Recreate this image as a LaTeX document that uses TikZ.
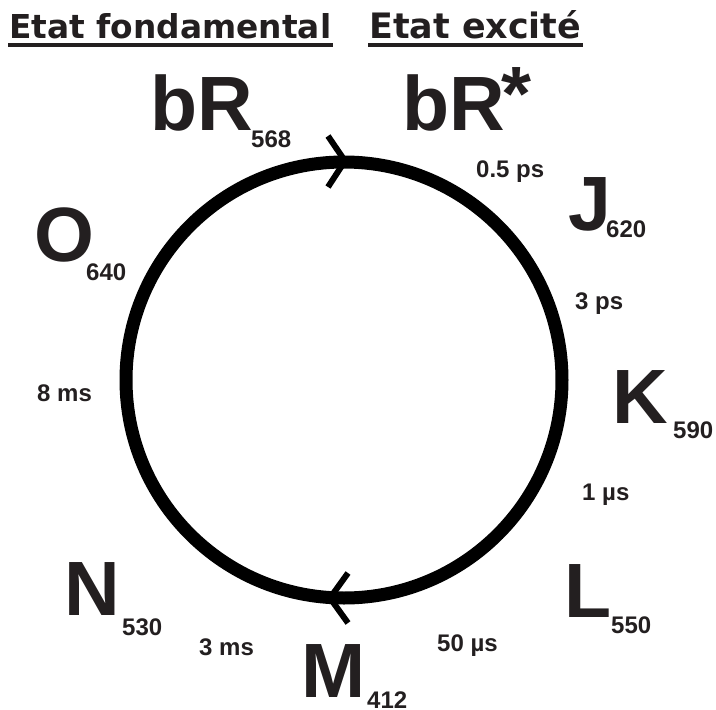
\documentclass[tikz,border=0pt]{standalone}
\usepackage{fontspec}
\setmainfont{Liberation Sans}
\newfontfamily\titlefont{DejaVu Sans}
\definecolor{ink}{HTML}{231F20}
\newcommand\subn[3]{\kern#1pt\raisebox{-#2pt}{\fontsize{24}{24}\selectfont #3}}
\begin{document}
\begin{tikzpicture}[x=1pt,y=-1pt,
  big/.style={anchor=base west,inner sep=0pt,font=\fontsize{77}{77}\selectfont\bfseries,text=ink},
  tlabel/.style={anchor=base west,inner sep=0pt,font=\fontsize{24}{24}\selectfont\bfseries,text=ink},
  ttl/.style={anchor=base west,inner sep=0pt,font=\titlefont\bfseries,text=ink},
  uline/.style={line width=4pt,ink},
  cyclepath/.style={line width=13pt,black},
  chev/.style={line width=6pt,black}]
\useasboundingbox (0,0) rectangle (716,710);
% titles
\node[ttl] (t1) at (9,38) {\resizebox{322pt}{25pt}{Etat fondamental}};
\node[ttl] (t2) at (369,38) {\resizebox{212pt}{28pt}{Etat excité}};
\draw[uline] (8,45) -- (333,45);
\draw[uline] (368,45) -- (583,45);
% cycle
\coordinate (ctr) at (344,380);
\draw[cyclepath] (ctr) circle[radius=218pt];
\coordinate (topA) at (345,161);
\coordinate (topU) at (328,136);
\coordinate (topD) at (328,187);
\draw[chev] (topU) -- (topA) -- (topD);
\coordinate (botA) at (330,598);
\coordinate (botU) at (348,573);
\coordinate (botD) at (348,623);
\draw[chev] (botU) -- (botA) -- (botD);
% states
\node[big] (bR) at (150,130) {bR\subn{-1.6}{17}{568}};
\node[big] (bRx) at (402,130) {bR\kern-3.6pt\raisebox{10pt}{*}};
\node[big] (J) at (568,230) {J\subn{-4.8}{7}{620}};
\node[big] (K) at (612,423) {K\subn{5.4}{15}{590}};
\node[big] (L) at (564,617) {L\subn{0}{16}{550}};
\node[big] (M) at (301,697) {M\subn{1.9}{11}{412}};
\node[big] (N) at (64,615) {N\subn{2.4}{20}{530}};
\node[big] (O) at (34,261) {O\subn{-7.9}{19}{640}};
% times
\node[tlabel] (t05) at (476,177) {0.5 ps};
\node[tlabel] (t3ps) at (575,309) {3 ps};
\node[tlabel] (t1us) at (582,500) {1 µs};
\node[tlabel] (t50us) at (437,651) {50 µs};
\node[tlabel] (t3ms) at (199,655) {3 ms};
\node[tlabel] (t8ms) at (37,401) {8 ms};
\end{tikzpicture}
\end{document}
